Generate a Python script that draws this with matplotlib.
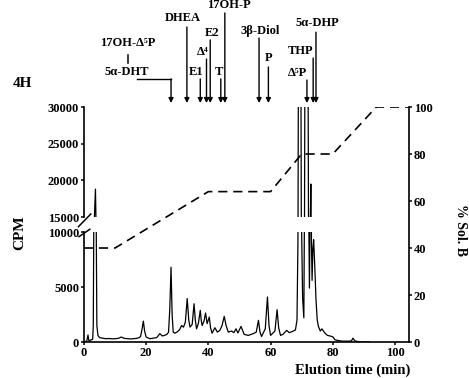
import matplotlib.pyplot as plt
from matplotlib import transforms

plt.rcParams["font.family"] = ["Liberation Serif", "DejaVu Serif"]
plt.rcParams["font.weight"] = "bold"
plt.rcParams["font.size"] = 9

# radioactivity trace (CPM vs elution time, min)
trace_t = [0, 0.9, 1.3, 1.6, 2.0, 2.8, 3.0, 3.15, 3.4, 3.7, 3.85, 3.95, 4.15, 4.5, 5.0,
           6, 7, 8, 9, 10, 11, 12, 13, 14, 15, 16, 17,
           17.7, 18.2, 18.7, 19.1, 19.5, 20.0, 21.2, 22.3, 23.4, 24.4, 25.2, 25.9, 26.7,
           27.2, 27.6, 28.0, 28.35, 28.7, 29.2, 29.9, 30.7, 31.4, 32.0, 32.6, 33.2, 33.7,
           34.1, 34.8, 35.4, 35.8, 36.2, 36.8, 37.4, 37.7, 38.0, 38.6, 39.1, 39.6, 40.3,
           40.7, 41.2, 42.1, 42.9, 43.7, 44.4, 45.1, 45.7, 46.4, 47.5, 48.2, 48.9, 49.5,
           50.5, 51.5, 52.8, 54.4, 55.4, 56.1, 56.6, 57.1, 58.3, 59.0, 59.5, 60.0, 61.4,
           62.1, 62.6, 63.2, 64.0, 65.2, 66.0, 67.0,
           68.0, 68.5, 68.8, 69.0, 69.7, 69.9, 70.3, 70.7, 70.9, 71.1, 72.0, 72.2, 72.5,
           72.7, 72.95, 73.15, 73.35, 73.6, 73.85, 74.2, 74.6, 75.0, 75.4, 76.0, 76.5,
           77.5, 78.3, 79.1, 79.7, 80.1, 80.7, 81.5, 83, 85, 86.0, 86.5, 87.1, 88.0,
           89.5, 92]
trace_cpm = [0, 80, 640, 100, 150, 250, 1500, 10000, 15500, 18800, 15000, 10000, 1500, 600, 400,
             350, 300, 320, 290, 300, 330, 450, 330, 300, 280, 310, 330,
             400, 500, 1200, 1900, 1000, 450, 300, 350, 400, 760, 550, 600, 700,
             900, 3000, 6800, 2500, 900, 800, 900, 1100, 1500, 1350, 1800, 3950, 2000,
             1360, 1600, 3480, 2000, 1200, 1700, 2880, 2000, 1500, 1900, 2640, 1670, 2270,
             1300, 800, 1300, 900, 1060, 1500, 2330, 1500, 900, 1000, 850, 1200, 820,
             1420, 700, 600, 760, 900, 1970, 900, 500, 1200, 4090, 1500, 600, 1000,
             2940, 1300, 600, 700, 1060, 850, 950,
             1100, 2000, 9000, 45000, 45000, 12000, 4000, 2200, 12000, 45000, 45000, 14000, 4900,
             12000, 19500, 9000, 5600, 8500, 9300, 7000, 3900, 2000, 1400, 1000, 1200,
             800, 600, 550, 500, 450, 200, 150, 80, 80, 100, 350, 100, 50,
             0, 0]

# solvent gradient (% Sol. B)
grad_t = [0, 10, 40, 60, 70, 80, 94, 104.5]
grad_b = [40, 40, 64, 64, 80, 80, 100, 100]

# standards and their elution times
std_names = ["DHEA", "E1", "Δ⁴", "E2", "T", "17OH-P", "3β-Diol", "P", "Δ⁵P", "THP", "5α-DHP"]
std_times = [33.1, 37.4, 39.4, 40.6, 44.0, 45.3, 56.3, 59.3, 71.7, 73.7, 74.6]
dht_time = 28.0

# label layout (text x in min, text y / arrow start in axes fraction of upper panel)
lab_x = [31.8, 36.0, 38.3, 41.2, 43.4, 46.6, 56.6, 59.5, 68.8, 69.7, 75.0]
lab_y = [1.809, 1.318, 1.50, 1.673, 1.318, 1.927, 1.69, 1.445, 1.31, 1.51, 1.764]
arr_y = [1.727, 1.255, 1.436, 1.61, 1.255, 1.855, 1.627, 1.364, 1.245, 1.445, 1.68]

fig = plt.figure(figsize=(4.69, 3.78), dpi=100)
L, W = 0.179, 0.693
ax_lo = fig.add_axes([L, 0.0952, W, 0.291])
ax_hi = fig.add_axes([L, 0.4259, W, 0.291])
ax_r = fig.add_axes([L, 0.0952, W, 0.6217])
ax_r.patch.set_visible(False)

xmax = 104.5
for ax in (ax_lo, ax_hi):
    ax.plot(trace_t, trace_cpm, color="k", lw=0.9)
    ax.set_xlim(0, xmax)
    ax.spines[["top", "right"]].set_visible(False)
    ax.spines["left"].set_linewidth(1.2)
    ax.spines["bottom"].set_linewidth(1.2)
    ax.tick_params(length=2.5, width=1.1, pad=1)

ax_lo.set_ylim(0, 10000)
ax_lo.set_yticks([0, 5000, 10000])
ax_lo.set_xticks(range(0, 101, 20))
ax_hi.set_ylim(15000, 30000)
ax_hi.set_yticks([15000, 20000, 25000, 30000])
ax_hi.spines["bottom"].set_visible(False)
ax_hi.tick_params(axis="x", bottom=False, labelbottom=False)

ax_r.plot(grad_t, grad_b, color="k", lw=1.2, ls=(0, (5.5, 3.5)))
ax_r.set_xlim(0, xmax)
ax_r.set_ylim(0, 100)
ax_r.set_xticks([])
ax_r.yaxis.tick_right()
ax_r.set_yticks(range(0, 101, 20))
ax_r.spines[["top", "left", "bottom"]].set_visible(False)
ax_r.spines["right"].set_linewidth(1.2)
ax_r.tick_params(length=2.5, width=1.1, pad=1)

# axis break marks
ax_lo.plot([-0.015, 0.018], [0.958, 1.025], transform=ax_lo.transAxes,
           color="k", lw=1.1, clip_on=False)
ax_hi.plot([-0.017, 0.021], [-0.088, 0.027], transform=ax_hi.transAxes,
           color="k", lw=1.1, clip_on=False)

# standards
tr = transforms.blended_transform_factory(ax_hi.transData, ax_hi.transAxes)
aprops = dict(arrowstyle="-|>", color="k", lw=1.0, mutation_scale=7, shrinkA=0, shrinkB=0)
tip = 1.036
for name, t, tx, ty, y0 in zip(std_names, std_times, lab_x, lab_y, arr_y):
    ax_hi.annotate("", xy=(t, tip), xytext=(t, y0), xycoords=tr, textcoords=tr,
                   arrowprops=aprops, annotation_clip=False)
    ax_hi.text(tx, ty, name, transform=tr, ha="center", va="center")

ax_hi.text(14.1, 1.58, "17OH-Δ⁵P", transform=tr, ha="center", va="center")
ax_hi.plot([14.1, 14.1], [1.40, 1.47], transform=tr, color="k", lw=1.1, clip_on=False)
ax_hi.text(13.8, 1.318, "5α-DHT", transform=tr, ha="center", va="center")
ax_hi.plot([17.2, dht_time], [1.255, 1.255], transform=tr, color="k", lw=1.0, clip_on=False)
ax_hi.annotate("", xy=(dht_time, tip), xytext=(dht_time, 1.255), xycoords=tr, textcoords=tr,
               arrowprops=aprops, annotation_clip=False)

fig.text(0.047, 0.78, "4H", fontsize=11, ha="center", va="center")
fig.text(0.043, 0.384, "CPM", fontsize=11, rotation=90, ha="center", va="center")
fig.text(0.981, 0.392, "% Sol. B", fontsize=10, rotation=270, ha="center", va="center")
fig.text(0.874, 0.021, "Elution time (min)", fontsize=10.5, ha="right", va="center")

fig.savefig("out.png", dpi=100)
